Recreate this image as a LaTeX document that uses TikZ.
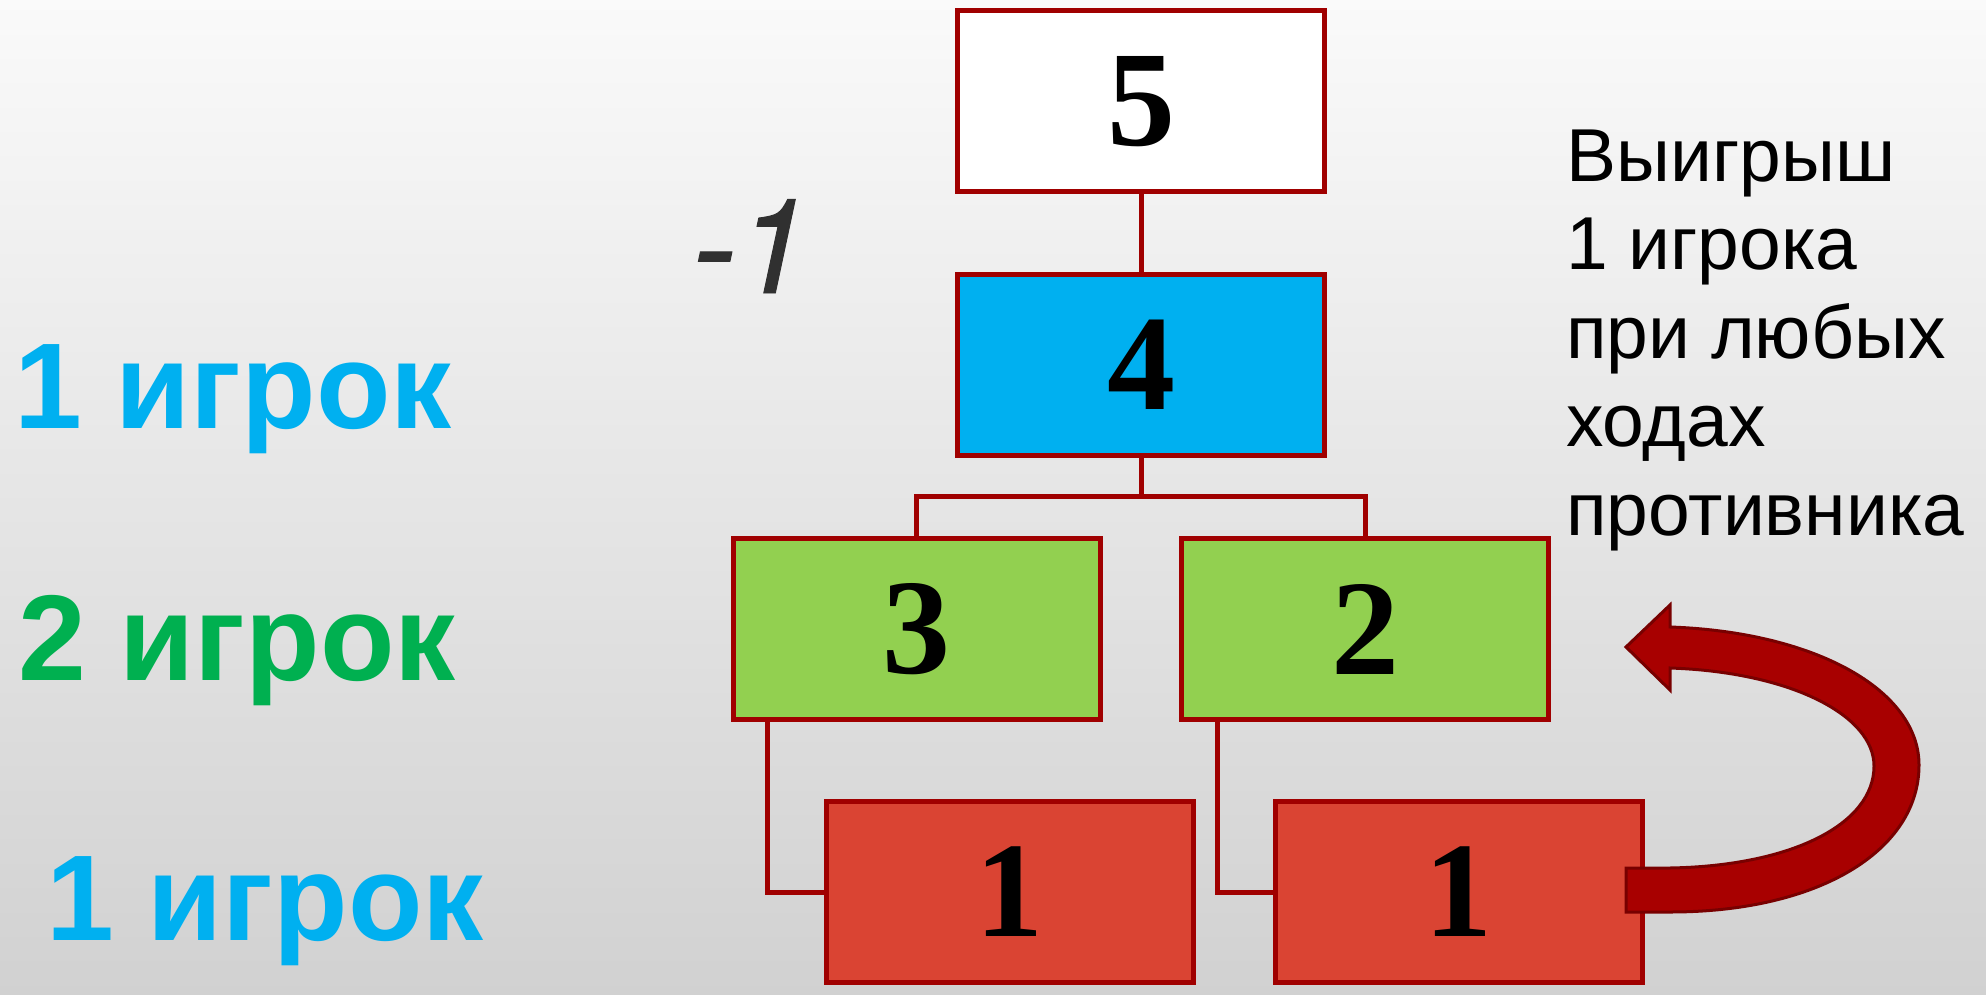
\documentclass[tikz,border=0pt]{standalone}
\usepackage{fontspec}
\setmainfont{Liberation Serif}
\newfontfamily\arial{Liberation Sans}
\newfontfamily\heros[ItalicFeatures={FakeBold=0.7}]{TeX Gyre Heros}
\usetikzlibrary{calc}

\definecolor{edgered}{HTML}{A00000}
\definecolor{skyblue}{HTML}{00B0F0}
\definecolor{leafgreen}{HTML}{92D050}
\definecolor{brickred}{HTML}{DA4433}
\definecolor{playergreen}{HTML}{00B050}
\definecolor{arrowred}{HTML}{A80000}
\definecolor{arrowedge}{HTML}{780000}
\definecolor{markgray}{HTML}{303030}

\tikzset{
  movebox/.style={draw=edgered, line width=5pt, rectangle,
    minimum width=367pt, minimum height=181pt, inner sep=0pt,
    font=\fontsize{136}{136}\selectfont\bfseries},
  link/.style={draw=edgered, line width=5pt},
  playerlabel/.style={anchor=base west, inner sep=0pt,
    font=\arial\fontsize{122}{122}\selectfont\bfseries},
}

\begin{document}
\begin{tikzpicture}[x=1pt, y=-1pt]
  % page and paper-like background
  \useasboundingbox (0,0) rectangle (1986,995);
  \shade[top color=white!98!black, bottom color=white!82!black]
    (0,0) rectangle (1986,995);

  % game tree positions
  \node[movebox, fill=white]     (n5)  at (1141,101.5) {5};
  \node[movebox, fill=skyblue]   (n4)  at (1141,365)   {4};
  \node[movebox, fill=leafgreen] (n3)  at (916.5,629)  {3};
  \node[movebox, fill=leafgreen] (n2)  at (1365,629)   {2};
  \node[movebox, fill=brickred]  (n1a) at (1009.5,892) {1};
  \node[movebox, fill=brickred]  (n1b) at (1458.5,892) {1};

  % connectors
  \coordinate (bus) at (1141,496);
  \draw[link] (n5.south) -- (n4.north);
  \draw[link] (n4.south) -- (bus);
  \draw[link] (bus) -| (n3.north);
  \draw[link] (bus) -| (n2.north);
  \draw[link] ($(n3.south west)+(37,0)$) |- (n1a.west);
  \draw[link] ($(n2.south west)+(38,0)$) |- (n1b.west);

  % curved arrow from the last move back to position 2
  \coordinate (tailtop) at (1626,868);
  \coordinate (tailbot) at (1626,912);
  \coordinate (tip) at (1626,647);
  \draw[fill=arrowred, draw=arrowedge, line width=3pt, line join=miter]
    (tailbot) -- (1670,912)
    .. controls (1820,912) and (1919,850) .. (1919,765)
    .. controls (1919,690) and (1815,632) .. (1670,627)
    -- (1670,605) -- (tip) -- (1670,690) -- (1670,668)
    .. controls (1790,672) and (1874,715) .. (1874,766)
    .. controls (1874,825) and (1790,866) .. (1670,868)
    -- (tailtop) -- cycle;

  % player labels
  \node[playerlabel, text=skyblue]     (p1top) at (14,428) {1 игрок};
  \node[playerlabel, text=playergreen] (p2)    at (18,680) {2 игрок};
  \node[playerlabel, text=skyblue]     (p1bot) at (46,940) {1 игрок};

  % payoff mark
  \node[anchor=base west, inner sep=0pt, text=markgray,
        font=\heros\itshape\fontsize{132}{132}\selectfont]
    (pay) at (692,293) {-1};

  % explanation
  \node[anchor=base west, inner sep=0pt, align=left,
        font=\arial\fontsize{75}{88.5}\selectfont]
    (note) at (1566,535)
    {Выигрыш\\1 игрока\\при любых\\ходах\\противника};
\end{tikzpicture}
\end{document}
